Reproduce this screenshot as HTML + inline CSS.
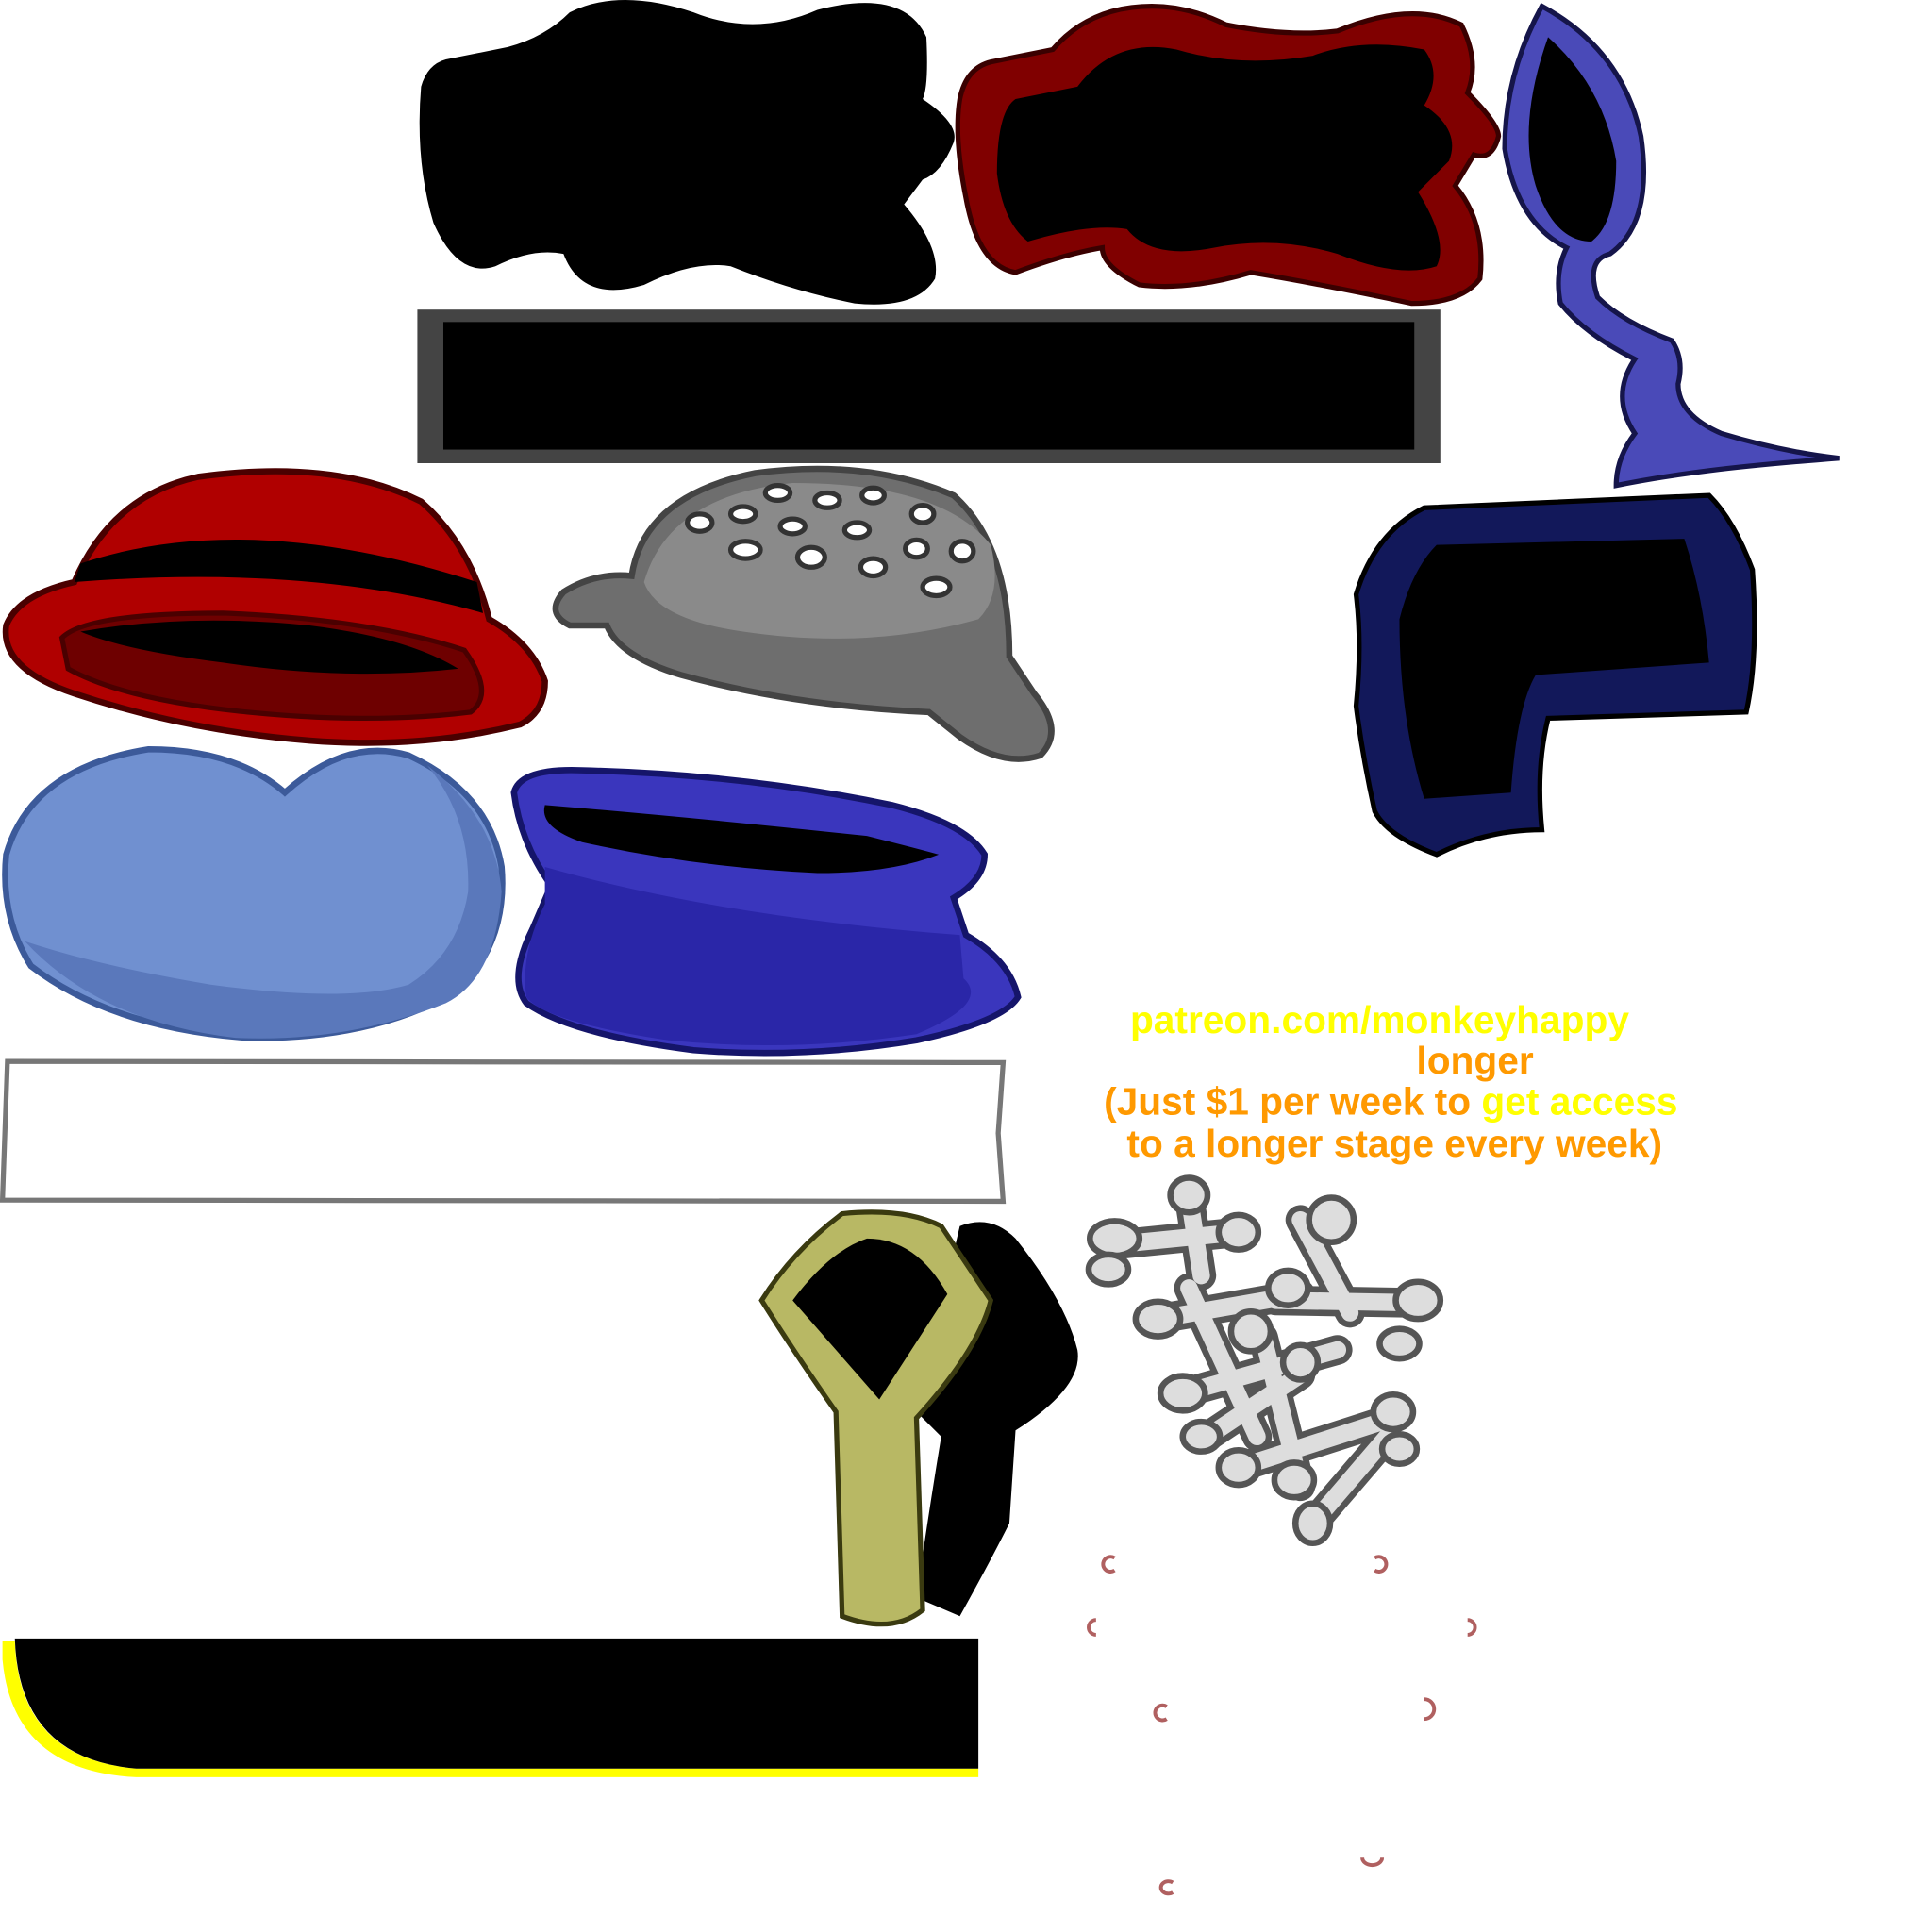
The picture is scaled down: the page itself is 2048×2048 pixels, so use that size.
<!DOCTYPE html>
<html><head><style>html,body{margin:0;padding:0;background:#fff}svg{display:block}</style></head>
<body>
<svg width="2048" height="2048" viewBox="0 0 1560 1560" xmlns="http://www.w3.org/2000/svg">
<path d="M360,48 L410,38 Q440,30 460,10 Q500,-10 560,10 Q610,30 660,8 Q730,-10 748,30 Q750,70 745,80 Q775,100 770,115 Q760,140 745,145 L730,165 Q760,200 755,225 Q740,250 690,245 Q640,235 590,215 Q560,210 520,230 Q470,245 455,205 Q430,200 400,215 Q370,225 350,180 Q335,130 340,70 Q345,52 360,48Z" fill="#000"/>
<path d="M800,50 L850,40 Q880,5 930,5 Q960,5 990,20 Q1040,30 1080,25 Q1140,0 1180,20 Q1195,50 1185,75 Q1210,100 1210,110 Q1205,130 1190,125 L1175,150 Q1200,180 1195,225 Q1180,245 1140,245 Q1070,230 1010,220 Q960,235 920,230 Q890,215 890,200 Q860,205 820,220 Q790,215 780,160 Q770,110 775,80 Q780,55 800,50Z" fill="#800000" stroke="#3a0000" stroke-width="4"/>
<path d="M820,80 L870,70 Q900,30 950,40 Q1000,55 1060,45 Q1100,30 1150,40 Q1165,60 1150,85 Q1180,105 1170,130 L1145,155 Q1170,195 1160,215 Q1130,225 1080,205 Q1030,190 980,200 Q930,210 910,185 Q880,180 830,195 Q810,180 805,140 Q805,90 820,80Z" fill="#000"/>
<rect x="337" y="250" width="826" height="124" fill="#444"/>
<rect x="358" y="260" width="784" height="103" fill="#000"/>
<path d="M1245,5 Q1310,40 1325,110 Q1335,180 1300,205 Q1280,210 1290,240 Q1310,260 1350,275 Q1360,290 1355,310 Q1355,335 1390,350 Q1440,365 1485,370 Q1420,375 1380,380 Q1340,385 1305,392 Q1305,370 1320,350 Q1300,320 1320,290 Q1280,270 1260,245 Q1255,220 1265,200 Q1225,180 1215,120 Q1215,60 1245,5Z" fill="#4a4ab8" stroke="#15154a" stroke-width="4"/>
<path d="M1250,30 Q1295,70 1305,130 Q1305,180 1285,195 Q1255,195 1240,150 Q1225,100 1250,30Z" fill="#000"/>
<path d="M1150,410 Q1260,405 1380,400 Q1400,420 1415,460 Q1420,530 1410,575 L1250,580 Q1240,620 1245,670 Q1200,670 1160,690 Q1120,675 1110,655 Q1100,610 1095,570 Q1100,520 1095,480 Q1110,430 1150,410Z" fill="#12185a" stroke="#000" stroke-width="4"/>
<path d="M1160,440 L1360,435 Q1375,480 1380,535 L1240,545 Q1225,570 1220,640 L1150,645 Q1130,580 1130,500 Q1140,460 1160,440Z" fill="#000"/>
<path d="M60,470 Q90,400 160,385 Q270,370 340,405 Q380,440 395,500 Q430,520 440,550 Q440,575 420,585 Q340,605 250,598 Q150,590 60,560 Q0,540 5,505 Q15,480 60,470Z" fill="#b00000" stroke="#4a0000" stroke-width="5"/>
<path d="M65,455 Q200,410 385,470 L390,495 Q250,455 60,470Z" fill="#000"/>
<path d="M50,515 Q70,495 180,495 Q300,500 375,525 Q400,560 380,575 Q300,585 200,575 Q100,565 55,540Z" fill="#6e0000" stroke="#4a0000" stroke-width="4"/>
<path d="M65,510 Q150,495 250,505 Q330,515 370,540 Q280,550 180,535 Q100,525 65,510Z" fill="#000"/>
<path d="M510,465 Q520,400 610,382 Q700,370 770,400 Q815,440 815,530 L835,560 Q860,590 840,610 Q810,620 775,595 L750,575 Q640,570 550,545 Q500,530 490,505 L460,505 Q440,495 455,478 Q480,462 510,465Z" fill="#6e6e6e" stroke="#444" stroke-width="5"/>
<path d="M520,470 Q540,400 640,390 Q760,390 800,440 Q810,480 790,500 Q700,525 600,510 Q530,500 520,470Z" fill="#8a8a8a"/>
<g fill="#fff" stroke="#333" stroke-width="4">
<ellipse cx="565" cy="422" rx="10" ry="7"/><ellipse cx="600" cy="415" rx="10" ry="6"/><ellipse cx="628" cy="398" rx="10" ry="6"/><ellipse cx="668" cy="404" rx="10" ry="6"/><ellipse cx="705" cy="400" rx="9" ry="6"/><ellipse cx="745" cy="415" rx="9" ry="7"/><ellipse cx="640" cy="425" rx="10" ry="6"/><ellipse cx="692" cy="428" rx="10" ry="6"/><ellipse cx="602" cy="444" rx="12" ry="7"/><ellipse cx="655" cy="450" rx="11" ry="8"/><ellipse cx="705" cy="458" rx="10" ry="7"/><ellipse cx="740" cy="443" rx="9" ry="7"/><ellipse cx="777" cy="445" rx="9" ry="8"/><ellipse cx="756" cy="474" rx="11" ry="7"/>
</g>
<path d="M120,605 Q190,605 230,640 Q280,595 330,610 Q395,640 405,700 Q410,760 370,800 Q300,840 200,838 Q90,830 25,780 Q0,740 5,690 Q25,620 120,605Z" fill="#7090d0" stroke="#3c5a9a" stroke-width="5"/>
<path d="M20,760 Q80,780 170,795 Q280,810 330,795 Q370,770 378,720 Q380,660 345,618 Q400,660 405,720 Q400,790 360,810 Q280,842 190,838 Q80,825 20,760Z" fill="#5a78bb"/>
<path d="M415,640 Q420,620 470,622 Q600,625 720,650 Q780,665 795,690 Q795,710 770,725 L780,755 Q815,775 822,805 Q810,825 740,840 Q650,855 560,848 Q460,835 425,810 Q410,790 430,750 L445,715 Q420,680 415,640Z" fill="#3a36bd" stroke="#15156a" stroke-width="5"/>
<path d="M440,700 Q580,740 775,755 L778,790 Q800,810 740,835 Q640,850 540,840 Q440,825 425,805 Q420,770 440,730Z" fill="#2a26a8"/>
<path d="M440,650 Q560,660 700,675 Q740,685 758,690 Q720,705 660,705 Q560,700 470,680 Q435,668 440,650Z" fill="#000"/>
<path d="M6,857 L810,858 L806,915 L810,970 L2,969Z" fill="#fff" stroke="#777" stroke-width="4"/>
<g font-family="Liberation Sans, sans-serif" font-weight="bold" font-size="31" text-anchor="middle">
<text x="1114" y="834" fill="#ffff00">patreon.com/monkeyhappy</text>
<text x="1191" y="867" fill="#ff9900">longer</text>
<text x="1123" y="900" fill="#ff9900">(Just $1 per week to <tspan fill="#ffff00">get access</tspan></text>
<text x="1126" y="934" fill="#ff9900">to a longer stage every week)</text>
</g>
<path d="M775,990 Q800,980 820,1000 Q860,1050 870,1090 Q875,1120 820,1155 L815,1230 Q800,1260 775,1305 L740,1290 Q750,1220 760,1160 L740,1140 Z" fill="#000"/>
<path d="M680,980 Q730,975 760,990 L800,1050 Q790,1090 740,1145 L745,1300 Q720,1320 680,1305 L675,1140 Q640,1090 615,1050 Q640,1010 680,980Z" fill="#b8b864" stroke="#3a3a10" stroke-width="4"/>
<path d="M700,1000 Q740,1000 765,1045 L710,1130 L640,1050 Q670,1010 700,1000Z" fill="#000"/>
<!-- bones -->
<g stroke-linecap="round" fill="none">
<g stroke="#555" stroke-width="24">
<path d="M900,1005 L1000,995"/><path d="M960,965 L970,1030"/><path d="M1050,985 L1090,1060"/><path d="M935,1065 L1050,1045"/><path d="M1030,1050 L1145,1052"/><path d="M955,1125 L1080,1090"/><path d="M960,1040 L1015,1160"/><path d="M1000,1185 L1125,1145"/><path d="M1060,1230 L1120,1160"/><path d="M975,1160 L1050,1110"/><path d="M1020,1080 L1050,1200"/>
</g>
<g stroke="#ddd" stroke-width="14">
<path d="M900,1005 L1000,995"/><path d="M960,965 L970,1030"/><path d="M1050,985 L1090,1060"/><path d="M935,1065 L1050,1045"/><path d="M1030,1050 L1145,1052"/><path d="M955,1125 L1080,1090"/><path d="M960,1040 L1015,1160"/><path d="M1000,1185 L1125,1145"/><path d="M1060,1230 L1120,1160"/><path d="M975,1160 L1050,1110"/><path d="M1020,1080 L1050,1200"/>
</g>
</g>
<g fill="#ddd" stroke="#555" stroke-width="5">
<ellipse cx="900" cy="1000" rx="20" ry="14"/><ellipse cx="960" cy="965" rx="15" ry="14"/><ellipse cx="1000" cy="995" rx="16" ry="14"/><ellipse cx="1075" cy="985" rx="18" ry="18"/><ellipse cx="895" cy="1025" rx="16" ry="12"/><ellipse cx="935" cy="1065" rx="18" ry="14"/><ellipse cx="1010" cy="1075" rx="16" ry="16"/><ellipse cx="1145" cy="1050" rx="18" ry="15"/><ellipse cx="1130" cy="1085" rx="16" ry="12"/><ellipse cx="955" cy="1125" rx="18" ry="14"/><ellipse cx="1050" cy="1100" rx="14" ry="14"/><ellipse cx="970" cy="1160" rx="15" ry="12"/><ellipse cx="1125" cy="1140" rx="16" ry="14"/><ellipse cx="1130" cy="1170" rx="14" ry="12"/><ellipse cx="1000" cy="1185" rx="16" ry="14"/><ellipse cx="1045" cy="1195" rx="16" ry="14"/><ellipse cx="1060" cy="1230" rx="14" ry="16"/><ellipse cx="1040" cy="1040" rx="16" ry="14"/>
</g>
<g fill="none" stroke="#b06060" stroke-width="3">
<path d="M900,1258 a6,6 0 1,0 0,10"/><path d="M1110,1258 a6,6 0 1,1 0,10"/><path d="M885,1308 a6,6 0 1,0 0,12"/><path d="M1185,1308 a6,6 0 1,1 0,12"/><path d="M942,1378 a6,6 0 1,0 0,10"/><path d="M1150,1372 a8,8 0 1,1 0,16"/><path d="M1100,1500 a8,6 0 1,0 16,0"/><path d="M947,1520 a6,5 0 1,0 0,8"/>
</g>
<path d="M2,1325 L2,1340 Q10,1430 110,1435 L790,1435 L790,1428 L110,1428 Q15,1420 12,1325Z" fill="#ffff00"/>
<path d="M12,1323 L790,1323 L790,1428 L110,1428 Q15,1420 12,1323Z" fill="#000"/>
</svg>
</body></html>
